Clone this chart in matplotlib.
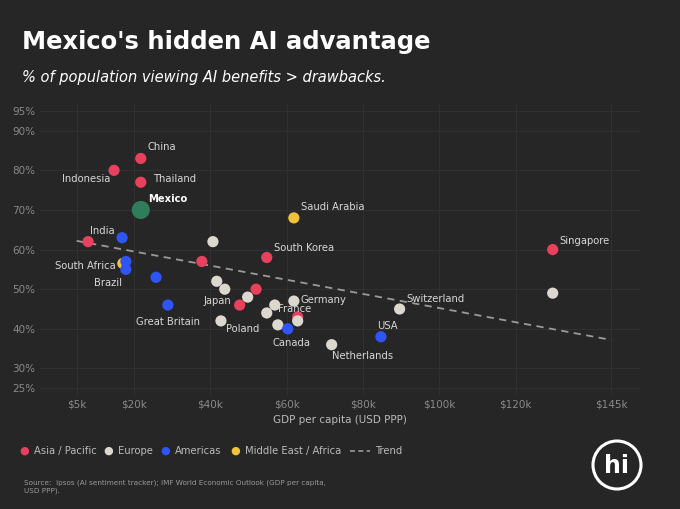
import matplotlib
matplotlib.use("Agg")
import matplotlib.pyplot as plt
from matplotlib.patches import Ellipse

countries = ["Indonesia","China","Thailand","Mexico","India","","South Africa","","Brazil","","Great Britain",
             "","","Saudi Arabia","South Korea","","","","","Japan","","","Germany","France","",
             "Poland","","Canada","Netherlands","USA","Switzerland","Singapore",""]
gdp = [14.8,21.8,21.8,21.8,16.9,8.0,17.1,17.9,17.9,25.8,28.9,
       40.7,37.8,61.9,54.8,41.7,43.8,52.0,49.8,47.7,56.9,54.8,61.9,62.9,62.9,
       42.8,57.7,60.3,71.8,84.7,89.6,129.7,129.7]
pct = [80,83,77,70,63,62,56.5,57,55,53,46,
       62,57,68,58,52,50,50,48,46,46,44,47,43,42,
       42,41,40,36,38,45,60,49]
region = ["A","A","A","M","Am","A","ME","Am","Am","Am","Am",
          "E","A","ME","A","E","E","A","E","A","E","E","E","A","E",
          "E","E","Am","E","Am","E","A","E"]
trend_x = [5, 145]
trend_y = [62.2, 37.2]
xticks = [5,20,40,60,80,100,120,145]
yticks = [25,30,40,50,60,70,80,90,95]

colors = {"A":"#e8415e","E":"#dcd8d0","Am":"#2f55f5","ME":"#f2c23a","M":"#2f7d5a"}
offs = {"Indonesia":(-3,-6,"right"),"China":(5,8,"left"),"Thailand":(9,2,"left"),"Mexico":(5,8,"left"),
        "India":(-5,5,"right"),"South Africa":(-5,-2,"right"),"Brazil":(-3,-10,"right"),
        "Great Britain":(0,-12,"center"),"Saudi Arabia":(5,8,"left"),"South Korea":(5,7,"left"),
        "Japan":(-6,3,"right"),"Germany":(5,1,"left"),"France":(-2,6,"center"),"Poland":(4,-6,"left"),
        "Canada":(3,-10,"center"),"Netherlands":(0,-8,"left"),"USA":(5,8,"center"),"Switzerland":(5,7,"left"),
        "Singapore":(5,6,"left")}

bg = "#262626"
fig = plt.figure(figsize=(6.8,5.09), dpi=100, facecolor=bg)
ax = fig.add_axes([0.0588,0.224,0.882,0.5737], facecolor=bg)
ax.set_xlim(-4.6,152.5)
ax.set_ylim(23.3,97)
for s in ax.spines.values(): s.set_visible(False)
ax.set_xticks(xticks)
ax.set_xticklabels([f"${v}k" for v in xticks])
ax.set_yticks(yticks)
ax.set_yticklabels([f"{v}%" for v in yticks])
ax.tick_params(colors="#8a8a8a", labelsize=7.5, length=0)
ax.grid(True, color="#323232", linewidth=0.6)
ax.set_axisbelow(True)
ax.set_xlabel("GDP per capita (USD PPP)", color="#bbbbbb", fontsize=7.5)

ax.plot(trend_x, trend_y, color="#9a9a9a", linestyle=(0,(4,3)), linewidth=1.3, zorder=2)
for c,x,y,r in zip(countries,gdp,pct,region):
    s = 170 if r=="M" else 65
    ax.scatter(x,y,s=s,color=colors[r],zorder=3,edgecolors="none")
    if c:
        dx,dy,ha = offs.get(c,(5,5,"left"))
        ax.annotate(c,(x,y),xytext=(dx,dy),textcoords="offset points",ha=ha,va="center",
                    color="white" if c=="Mexico" else "#d8d8d8",fontsize=7.2,
                    fontweight="bold" if c=="Mexico" else "normal",zorder=4)

fig.text(0.032,0.918,"Mexico's hidden AI advantage",color="white",fontsize=17.5,fontweight="bold",va="center")
fig.text(0.032,0.848,"% of population viewing AI benefits > drawbacks.",color="white",fontsize=10.5,style="italic",va="center")

items = [("Asia / Pacific","A",24),("Europe","E",108),("Americas","Am",165),("Middle East / Africa","ME",235)]
yl = 1-451/509
for lab,k,px in items:
    ax_x = px/680
    fig.text(ax_x,yl,"●",color=colors[k],fontsize=8,va="center",ha="center")
    fig.text(ax_x+0.014,yl,lab,color="#bbbbbb",fontsize=7.2,va="center")
fig.add_artist(plt.Line2D([350/680,370/680],[yl,yl],color="#9a9a9a",linestyle=(0,(3,2)),linewidth=1.2))
fig.text(375/680,yl,"Trend",color="#bbbbbb",fontsize=7.2,va="center")

fig.text(0.035,0.03,"Source:  Ipsos (AI sentiment tracker); IMF World Economic Outlook (GDP per capita,\nUSD PPP).",
         color="#999999",fontsize=5.2,va="bottom")
r = 24
circ = Ellipse((617/680,1-465/509),2*r/680,2*r/509,transform=fig.transFigure,fill=False,edgecolor="white",linewidth=2.2)
fig.add_artist(circ)
fig.text(617/680,1-466/509,"hi",color="white",fontsize=17,fontweight="bold",ha="center",va="center")

fig.savefig("out.png",dpi=100,facecolor=bg)
